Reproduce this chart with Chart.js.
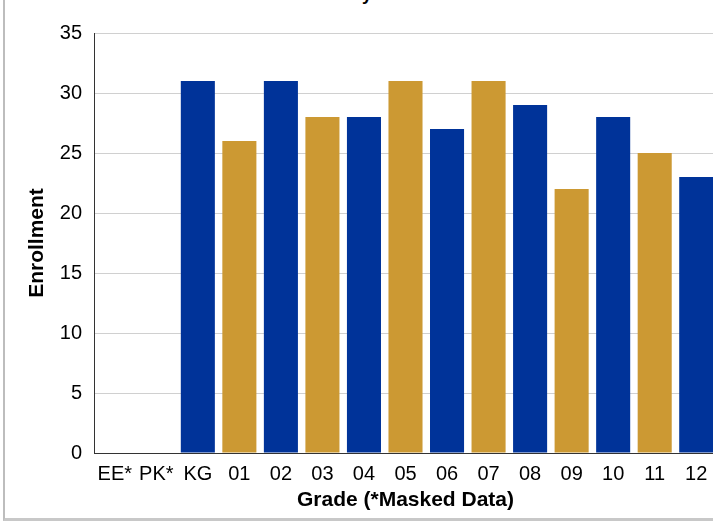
<!DOCTYPE html>
<html>
<head>
<meta charset="utf-8">
<script src="https://cdn.jsdelivr.net/npm/chart.js@4"></script>
<style>
  html, body { margin:0; padding:0; width:713px; height:524px; overflow:hidden; background:#fff; }
  #frame { position:absolute; left:3px; top:-10px; width:760px; height:528px;
           border-left:2px solid #bdbdbd; border-bottom:3px solid #c8c8c8; }
  #title { position:absolute; left:252px; top:-15px; font:bold 18px "Liberation Sans", Arial, sans-serif;
           line-height:18px; white-space:nowrap; color:#000; }
  #c { position:absolute; left:5px; top:0; width:712px; height:518px; }
</style>
</head>
<body>
<div id="frame"></div>
<div id="title">Enrollment by Grade</div>
<canvas id="c" width="712" height="518"></canvas>
<script>
const categories = ['EE*', 'PK*', 'KG', '01', '02', '03', '04', '05', '06', '07', '08', '09', '10', '11', '12'];
const enrollment = [null, null, 31, 26, 31, 28, 28, 31, 27, 31, 29, 22, 28, 25, 23];
const yAxisTitle = 'Enrollment';
const xAxisTitle = 'Grade (*Masked Data)';

const BLUE = '#003399';
const GOLD = '#CC9933';
const FONT = '"Liberation Sans", Arial, sans-serif';

new Chart(document.getElementById('c'), {
  type: 'bar',
  data: {
    labels: categories,
    datasets: [{
      label: yAxisTitle,
      data: enrollment,
      backgroundColor: ctx => (ctx.dataIndex % 2 === 0 ? BLUE : GOLD),
      borderWidth: 0,
      categoryPercentage: 1.0,
      barPercentage: 0.82
    }]
  },
  options: {
    responsive: false,
    animation: false,
    layout: { padding: { top: 33, left: 0, right: 0, bottom: 0 } },
    plugins: { legend: { display: false }, title: { display: false }, tooltip: { enabled: false } },
    scales: {
      x: {
        grid: { display: false, drawTicks: false },
        border: { display: true, color: '#333', width: 1 },
        ticks: { color: '#000', font: { family: FONT, size: 20 }, padding: 9, maxRotation: 0, autoSkip: false },
        title: { display: true, text: xAxisTitle, color: '#000',
                 font: { family: FONT, size: 21, weight: 'bold' }, padding: { top: 2, bottom: 5 } },
        afterFit: s => { s.height = 65; }
      },
      y: {
        min: 0, max: 35,
        grid: { color: '#d0d0d0', lineWidth: 1, drawTicks: false },
        border: { display: true, color: '#333', width: 1 },
        ticks: { stepSize: 5, color: '#000', font: { family: FONT, size: 20 }, padding: 12 },
        title: { display: true, text: yAxisTitle, color: '#000',
                 font: { family: FONT, size: 21, weight: 'bold' }, padding: { top: 20, bottom: 0 } },
        afterFit: s => { s.width = 89; }
      }
    }
  }
});
</script>
</body>
</html>
